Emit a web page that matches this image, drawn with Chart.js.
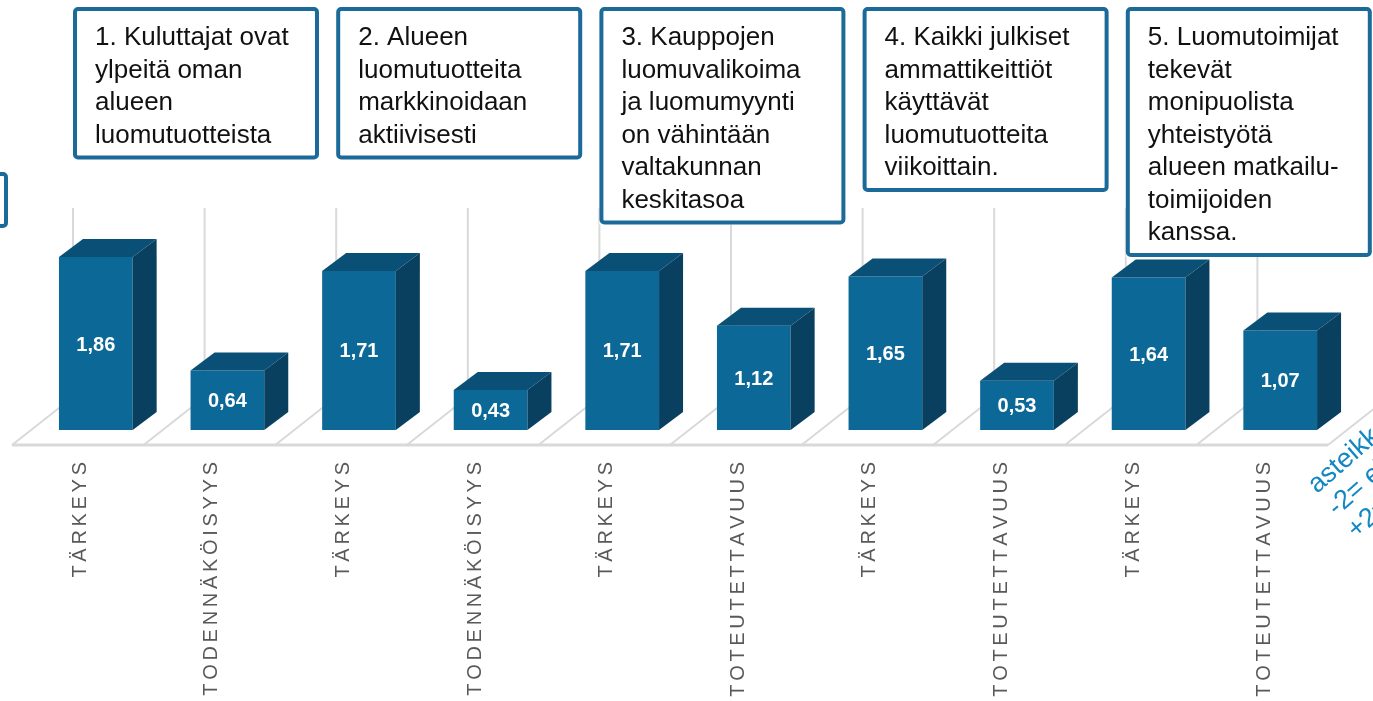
<!DOCTYPE html>
<html>
<head>
<meta charset="utf-8">
<script src="https://cdn.jsdelivr.net/npm/chart.js@4.4.1/dist/chart.umd.min.js"></script>
<style>
  html, body { margin: 0; background: #fff; overflow: hidden; }
  #wrap { width: 1373px; height: 701px; position: relative; }
</style>
</head>
<body>
<div id="wrap"><canvas id="chart"></canvas></div>
<script>
// Luomutavoitteet: tärkeys vs. todennäköisyys / toteutettavuus, 3D-pylväät.

const CATEGORIES = [
  'TÄRKEYS', 'TODENNÄKÖISYYS', 'TÄRKEYS', 'TODENNÄKÖISYYS', 'TÄRKEYS',
  'TOTEUTETTAVUUS', 'TÄRKEYS', 'TOTEUTETTAVUUS', 'TÄRKEYS', 'TOTEUTETTAVUUS',
];
const VALUES = [1.86, 0.64, 1.71, 0.43, 1.71, 1.12, 1.65, 0.53, 1.64, 1.07];

const GOALS = [
  ['1. Kuluttajat ovat', 'ylpeitä oman', 'alueen', 'luomutuotteista'],
  ['2. Alueen', 'luomutuotteita', 'markkinoidaan', 'aktiivisesti'],
  ['3. Kauppojen', 'luomuvalikoima', 'ja luomumyynti', 'on vähintään', 'valtakunnan', 'keskitasoa'],
  ['4. Kaikki julkiset', 'ammattikeittiöt', 'käyttävät', 'luomutuotteita', 'viikoittain.'],
  ['5. Luomutoimijat', 'tekevät', 'monipuolista', 'yhteistyötä', 'alueen matkailu-', 'toimijoiden', 'kanssa.'],
];
const SCALE_NOTE = ['asteikko', '-2= ei', '+2= kyllä'];

const FONT = "'Liberation Sans', Arial, sans-serif";
const FRONT = '#0C6896', TOP = '#0A4F76', SIDE = '#093F5F';
const GRID = '#D9D9D9', INK = '#595959', FRAME = '#1C6A99';
const DX = 24, DY = 18;          // bar depth
const FLOOR_F = [-18, 15];       // floor front edge offset from bar plane
const FLOOR_B = [43, -33];       // floor back edge / wall offset

function bounds(chart) {
  const x = chart.scales.x;
  const step = x.getPixelForValue(1) - x.getPixelForValue(0);
  const b0 = x.getPixelForValue(0) - step / 2;
  return CATEGORIES.map((_, i) => b0 + i * step).concat(b0 + CATEGORIES.length * step);
}

function spacedWidth(ctx, s, sp) {
  let w = 0;
  for (const ch of s) w += ctx.measureText(ch).width + sp;
  return w - sp;
}
function spacedText(ctx, s, x, y, sp) {
  for (const ch of s) { ctx.fillText(ch, x, y); x += ctx.measureText(ch).width + sp; }
}

const scene = {
  id: 'scene',
  beforeDatasetsDraw(chart) {
    const { ctx } = chart;
    const y = chart.scales.y;
    const base = y.getPixelForValue(0);
    const wallTop = y.getPixelForValue(2) + FLOOR_B[1] - 3;
    const bs = bounds(chart);
    ctx.save();
    ctx.strokeStyle = GRID;
    ctx.lineWidth = 2;
    // back wall verticals
    bs.forEach((b) => {
      ctx.beginPath();
      ctx.moveTo(b + FLOOR_B[0], base + FLOOR_B[1]);
      ctx.lineTo(b + FLOOR_B[0], wallTop);
      ctx.stroke();
    });
    // floor diagonals
    bs.forEach((b) => {
      ctx.beginPath();
      ctx.moveTo(b + FLOOR_F[0], base + FLOOR_F[1]);
      ctx.lineTo(b + FLOOR_B[0], base + FLOOR_B[1]);
      ctx.stroke();
    });
    // floor front edge
    ctx.lineWidth = 3;
    ctx.beginPath();
    ctx.moveTo(bs[0] + FLOOR_F[0], base + FLOOR_F[1]);
    ctx.lineTo(bs[bs.length - 1] + FLOOR_F[0], base + FLOOR_F[1]);
    ctx.stroke();
    ctx.restore();
  },
  afterDatasetsDraw(chart) {
    const { ctx } = chart;
    const bars = chart.getDatasetMeta(0).data;
    ctx.save();
    bars.forEach((bar, i) => {
      const l = bar.x - bar.width / 2, r = bar.x + bar.width / 2;
      const t = bar.y, b = bar.base;
      ctx.fillStyle = TOP;
      ctx.beginPath();
      ctx.moveTo(l, t); ctx.lineTo(l + DX, t - DY); ctx.lineTo(r + DX, t - DY); ctx.lineTo(r, t);
      ctx.closePath(); ctx.fill();
      ctx.fillStyle = SIDE;
      ctx.beginPath();
      ctx.moveTo(r, t); ctx.lineTo(r + DX, t - DY); ctx.lineTo(r + DX, b - DY); ctx.lineTo(r, b);
      ctx.closePath(); ctx.fill();
      // value label
      ctx.fillStyle = '#fff';
      ctx.font = `bold 20px ${FONT}`;
      ctx.textAlign = 'center';
      ctx.textBaseline = 'alphabetic';
      ctx.fillText(VALUES[i].toFixed(2).replace('.', ','), bar.x, (t + b) / 2 + 7);
    });
    ctx.restore();
  },
  afterDraw(chart) {
    const { ctx } = chart;
    const x = chart.scales.x;
    const base = chart.scales.y.getPixelForValue(0);
    const bs = bounds(chart);
    ctx.save();

    // rotated category labels
    ctx.fillStyle = INK;
    ctx.font = `20px ${FONT}`;
    ctx.textBaseline = 'alphabetic';
    ctx.textAlign = 'left';
    CATEGORIES.forEach((lab, i) => {
      const w = spacedWidth(ctx, lab, 3.7);
      ctx.save();
      ctx.translate(x.getPixelForValue(i) - 10, base + 32);
      ctx.rotate(-Math.PI / 2);
      spacedText(ctx, lab, -w, 0, 3.7);
      ctx.restore();
    });

    // goal boxes
    GOALS.forEach((lines, g) => {
      const x0 = bs[g * 2] + FLOOR_B[0];
      const w = 246, y0 = 7;
      const h = 55 + (lines.length - 1) * 32.5;
      ctx.fillStyle = '#fff';
      ctx.fillRect(x0, y0, w, h);
      ctx.strokeStyle = FRAME;
      ctx.lineWidth = 4;
      ctx.beginPath();
      ctx.roundRect(x0 + 2, y0 + 2, w - 4, h - 4, 3);
      ctx.stroke();
      ctx.fillStyle = '#111';
      ctx.font = `26px ${FONT}`;
      lines.forEach((s, j) => ctx.fillText(s, x0 + 22, 45 + j * 32.5));
    });

    // partial box at the left edge
    ctx.strokeStyle = FRAME;
    ctx.lineWidth = 4;
    ctx.beginPath();
    ctx.roundRect(-60, 174, 66, 52, 3);
    ctx.stroke();

    // rotated scale note, clipped at the right edge
    ctx.fillStyle = '#1287C3';
    ctx.font = `27px ${FONT}`;
    ctx.translate(1317, 494);
    ctx.rotate(-41 * Math.PI / 180);
    SCALE_NOTE.forEach((s, j) => ctx.fillText(s, 0, j * 30));
    ctx.restore();
  },
};

new Chart(document.getElementById('chart'), {
  type: 'bar',
  data: {
    labels: CATEGORIES,
    datasets: [{
      data: VALUES,
      backgroundColor: FRONT,
      borderWidth: 0,
      barPercentage: 0.56,
      categoryPercentage: 1,
    }],
  },
  options: {
    responsive: true,
    maintainAspectRatio: false,
    animation: false,
    layout: { padding: { left: 30, right: 27, top: 244, bottom: 271 } },
    plugins: { legend: { display: false }, tooltip: { enabled: false } },
    scales: {
      x: { display: false },
      y: { display: false, min: 0, max: 2 },
    },
  },
  plugins: [scene],
});
</script>
</body>
</html>
